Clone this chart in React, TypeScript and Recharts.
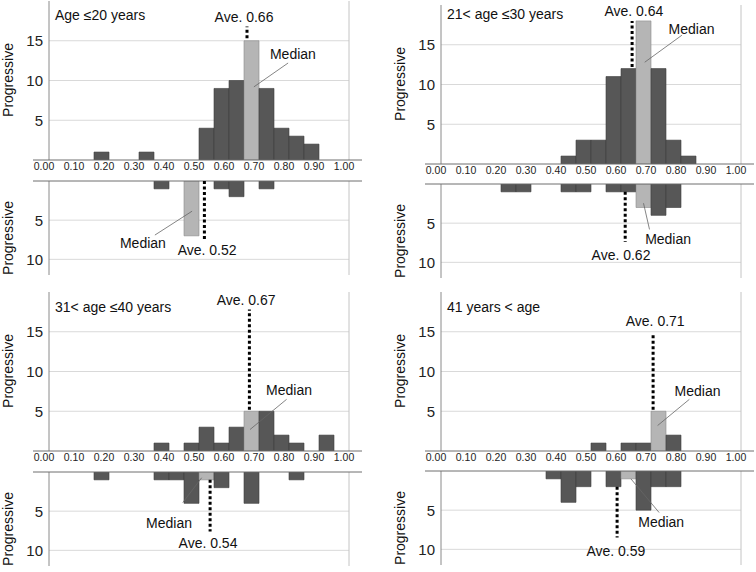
import React from 'react';
import { BarChart, Bar, XAxis, YAxis, ReferenceLine, ReferenceDot, Cell } from 'recharts';

const FONT = '"Liberation Sans", Arial, Helvetica, sans-serif';

// histogram bins: centres of 0.05-wide bins
const binCenters = [0.025, 0.075, 0.125, 0.175, 0.225, 0.275, 0.325, 0.375, 0.425, 0.475,
  0.525, 0.575, 0.625, 0.675, 0.725, 0.775, 0.825, 0.875, 0.925, 0.975];
const xTicks = [0, 0.1, 0.2, 0.3, 0.4, 0.5, 0.6, 0.7, 0.8, 0.9, 1.0];
const xTickLabels = ['0.00', '0.10', '0.20', '0.30', '0.40', '0.50', '0.60', '0.70', '0.80', '0.90', '1.00'];
const upperTicks = [5, 10, 15];
const lowerTicks = [5, 10];

const titles = ['Age \u226420 years', '21< age \u226430 years', '31< age \u226440 years', '41 years < age'];

const p1Upper = [0, 0, 0, 1, 0, 0, 1, 0, 0, 0, 4, 9, 10, 15, 9, 4, 3, 2, 0, 0];
const p1Lower = [0, 0, 0, 0, 0, 0, 0, 1, 0, 7, 0, 1, 2, 0, 1, 0, 0, 0, 0, 0];
const p2Upper = [0, 0, 0, 0, 0, 0, 0, 0, 1, 3, 3, 11, 12, 18, 12, 3, 1, 0, 0, 0];
const p2Lower = [0, 0, 0, 0, 1, 1, 0, 0, 1, 1, 0, 1, 1, 3, 4, 3, 0, 0, 0, 0];
const p3Upper = [0, 0, 0, 0, 0, 0, 0, 1, 0, 1, 3, 1, 3, 5, 5, 2, 1, 0, 2, 0];
const p3Lower = [0, 0, 0, 1, 0, 0, 0, 1, 1, 4, 1, 2, 0, 4, 0, 0, 1, 0, 0, 0];
const p4Upper = [0, 0, 0, 0, 0, 0, 0, 0, 0, 0, 1, 0, 1, 1, 5, 2, 0, 0, 0, 0];
const p4Lower = [0, 0, 0, 0, 0, 0, 0, 1, 4, 2, 0, 2, 1, 5, 2, 2, 0, 0, 0, 0];

const medianBinUpper = [13, 13, 13, 14];
const medianBinLower = [9, 13, 10, 12];

type Ann = {
  aveX: number; aveFrom: number; aveTo: number; aveLabel: string;
  aveText: [number, number]; medText: [number, number]; leader: [number, number, number, number];
};

// annotation placement (data coordinates)
const annUpper: Ann[] = [
  { aveX: 0.66, aveFrom: 15.3, aveTo: 16.8, aveLabel: 'Ave. 0.66', aveText: [0.65, 17.95], medText: [0.813, 13.35], leader: [0.683, 9.2, 0.797, 12.2] },
  { aveX: 0.637, aveFrom: 12.2, aveTo: 18, aveLabel: 'Ave. 0.64', aveText: [0.643, 19.2], medText: [0.835, 17], leader: [0.679, 12.8, 0.803, 16.2] },
  { aveX: 0.668, aveFrom: 5.2, aveTo: 17.8, aveLabel: 'Ave. 0.67', aveText: [0.657, 19.0], medText: [0.8, 7.7], leader: [0.67, 2.7, 0.792, 6.5] },
  { aveX: 0.707, aveFrom: 5.2, aveTo: 14.7, aveLabel: 'Ave. 0.71', aveText: [0.714, 16.4], medText: [0.855, 7.6], leader: [0.722, 3.2, 0.828, 6.5] },
];
const annLower: Ann[] = [
  { aveX: 0.518, aveFrom: 0, aveTo: 7.4, aveLabel: 'Ave. 0.52', aveText: [0.527, 8.85], medText: [0.313, 7.95], leader: [0.477, 3.85, 0.353, 6.9] },
  { aveX: 0.614, aveFrom: 1, aveTo: 7.4, aveLabel: 'Ave. 0.62', aveText: [0.6, 9.0], medText: [0.757, 7.0], leader: [0.675, 2.45, 0.695, 5.8] },
  { aveX: 0.537, aveFrom: 1, aveTo: 7.6, aveLabel: 'Ave. 0.54', aveText: [0.53, 9.1], medText: [0.4, 6.5], leader: [0.446, 3.9, 0.509, 0.73] },
  { aveX: 0.587, aveFrom: 2, aveTo: 8.5, aveLabel: 'Ave. 0.59', aveText: [0.583, 10.2], medText: [0.734, 6.5], leader: [0.633, 1.0, 0.727, 5.3] },
];

const DARK = '#575757';
const DARK_STROKE = '#3c3c3c';
const LIGHT = '#b5b5b5';
const LIGHT_STROKE = '#8c8c8c';
const GRID = '#d9d9d9';

const XTick = (props: any) => {
  const { x, y, payload } = props;
  const idx = xTicks.indexOf(payload.value);
  return (
    <text x={x - 5} y={y + 6} textAnchor="middle" dominantBaseline="central" fontSize={10.5} fill="#222" fontFamily={FONT}>
      {idx >= 0 ? xTickLabels[idx] : String(payload.value)}
    </text>
  );
};

const YTick = (props: any) => {
  const { x, y, payload } = props;
  return (
    <text x={x + 10} y={y} textAnchor="end" dominantBaseline="central" fontSize={15} fill="#222" fontFamily={FONT}>
      {String(payload.value)}
    </text>
  );
};

const textShape = (label: string) => (p: any) => (
  <text x={p.cx} y={p.cy} textAnchor="middle" dominantBaseline="central" fontSize={14} fill="#111" fontFamily={FONT}>
    {label}
  </text>
);

const PAD = { left: 16, right: 13 };

function axes(lower: boolean, visible: boolean) {
  const yMax = lower ? 12 : 20;
  const ticks = lower ? lowerTicks : upperTicks;
  return [
    <XAxis
      key="xa"
      dataKey="x"
      type="number"
      domain={[0, 1]}
      ticks={xTicks}
      padding={PAD}
      hide={lower}
      height={20}
      axisLine={visible ? { stroke: '#6e6e6e' } : false}
      tickLine={false}
      tickSize={0}
      tickMargin={0}
      tick={visible ? XTick : false}
      interval={0}
      allowDataOverflow
    />,
    <YAxis
      key="ya"
      type="number"
      domain={[0, yMax]}
      reversed={lower}
      ticks={ticks}
      width={33}
      tickSize={0}
      tickMargin={0}
      axisLine={false}
      tickLine={false}
      tick={visible ? YTick : false}
      interval={0}
      allowDataOverflow
    />,
  ];
}

function Half({ values, median, ann, lower }: { values: number[]; median: number; ann: Ann; lower: boolean }) {
  const data = binCenters.map((c, i) => ({ x: c, count: values[i] }));
  const ticks = lower ? lowerTicks : upperTicks;
  const w = 378;
  const h = lower ? 98 : 180;
  const margin = lower ? { top: 2, right: 16, bottom: 2, left: 0 } : { top: 1, right: 16, bottom: 0, left: 0 };
  return (
    <div style={{ position: 'relative', width: w, height: h }}>
      {/* background layer: grid and frame lines */}
      <div style={{ position: 'absolute', left: 0, top: 0 }}>
        <BarChart width={w} height={h} data={data} margin={margin} barCategoryGap={0} barGap={0}>
          {axes(lower, false)}
          {ticks.map((t) => (
            <ReferenceLine key={'g' + t} segment={[{ x: 0, y: t }, { x: 1, y: t }]} stroke={GRID} strokeWidth={1} />
          ))}
          <ReferenceLine x={1} stroke="#c4c4c4" strokeWidth={1} />
          <ReferenceLine x={0} stroke="#8a8a8a" strokeWidth={1} />
        </BarChart>
      </div>
      {/* foreground layer: bars and annotations */}
      <div style={{ position: 'absolute', left: 0, top: 0 }}>
        <BarChart width={w} height={h} data={data} margin={margin} barCategoryGap={0} barGap={0}>
          {axes(lower, true)}
          {lower && <ReferenceLine y={0} stroke="#6e6e6e" strokeWidth={1} />}
          <Bar dataKey="count" isAnimationActive={false}>
            {data.map((d, i) => (
              <Cell key={i} fill={i === median ? LIGHT : DARK} stroke={i === median ? LIGHT_STROKE : DARK_STROKE} strokeWidth={0.6} />
            ))}
          </Bar>
          <ReferenceLine
            segment={[{ x: ann.aveX, y: ann.aveFrom }, { x: ann.aveX, y: ann.aveTo }]}
            stroke="#000"
            strokeWidth={3}
            strokeDasharray="3 2.5"
          />
          <ReferenceLine
            segment={[{ x: ann.leader[0], y: ann.leader[1] }, { x: ann.leader[2], y: ann.leader[3] }]}
            stroke="#666"
            strokeWidth={0.8}
          />
          <ReferenceDot x={ann.aveText[0]} y={ann.aveText[1]} r={0} shape={textShape(ann.aveLabel)} />
          <ReferenceDot x={ann.medText[0]} y={ann.medText[1]} r={0} shape={textShape('Median')} />
        </BarChart>
      </div>
    </div>
  );
}

function Panel({ left, top, gap, titleY, idx, up, down }: { left: number; top: number; gap: number; titleY: number; idx: number; up: number[]; down: number[] }) {
  const zero = 160;
  const lowerTop = zero + gap;
  return (
    <div style={{ position: 'absolute', left, top, width: 378, height: 290 }}>
      <div style={{ position: 'absolute', left: 0, top: 0 }}>
        <Half values={up} median={medianBinUpper[idx]} ann={annUpper[idx]} lower={false} />
      </div>
      <div style={{ position: 'absolute', left: 0, top: lowerTop - 2 }}>
        <Half values={down} median={medianBinLower[idx]} ann={annLower[idx]} lower={true} />
      </div>
      <svg width={378} height={290} style={{ position: 'absolute', left: 0, top: 0, pointerEvents: 'none' }}>
        <text x={55} y={titleY} fontSize={14} fill="#111" fontFamily={FONT}>{titles[idx]}</text>
        <text x={0} y={0} transform={`translate(8, ${zero - 80}) rotate(-90)`} textAnchor="middle" dominantBaseline="central" fontSize={14} fill="#111" fontFamily={FONT}>Progressive</text>
        <text x={0} y={0} transform={`translate(8, ${lowerTop + 57}) rotate(-90)`} textAnchor="middle" dominantBaseline="central" fontSize={14} fill="#111" fontFamily={FONT}>Progressive</text>
      </svg>
    </div>
  );
}

export default function App() {
  return (
    <div style={{ position: 'absolute', left: 0, top: 0, width: 756, height: 572, overflow: 'hidden', background: '#fff' }}>
      <Panel left={0} top={0} gap={21} titleY={20} idx={0} up={p1Upper} down={p1Lower} />
      <Panel left={392} top={4} gap={20} titleY={15} idx={1} up={p2Upper} down={p2Lower} />
      <Panel left={0} top={291} gap={21} titleY={21} idx={2} up={p3Upper} down={p3Lower} />
      <Panel left={392} top={291} gap={20} titleY={21} idx={3} up={p4Upper} down={p4Lower} />
    </div>
  );
}
